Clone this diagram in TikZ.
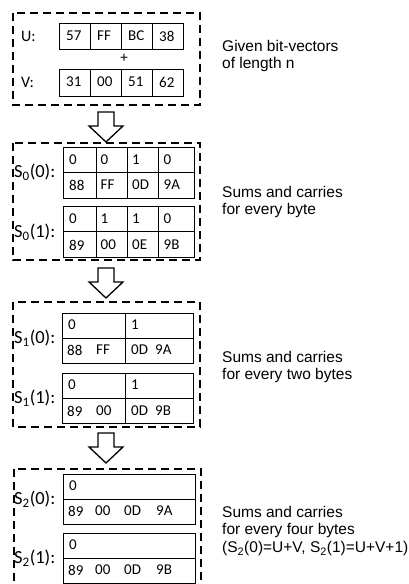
\documentclass[tikz,border=0pt]{standalone}
\usepackage{fontspec}
\setmainfont{Liberation Sans}
\newfontfamily\cellfont{Carlito}

\begin{document}
\begin{tikzpicture}[x=1pt,y=-1pt,
  group/.style={line width=2.8pt,dash pattern=on 8pt off 5pt},
  cellbox/.style={line width=0.7pt},
  cell/.style={font=\cellfont\fontsize{15}{15}\selectfont,anchor=west,inner sep=0pt},
  tag/.style={font=\cellfont\fontsize{16}{16}\selectfont,anchor=west,inner sep=0pt},
  stag/.style={font=\cellfont\fontsize{18.5}{18.5}\selectfont,anchor=west,inner sep=0pt},
  note/.style={font=\fontsize{15.5}{17.5}\selectfont,anchor=north west,align=left,inner sep=0pt},
  blockarrow/.style={line width=1.3pt,line join=miter,fill=white}]
  \useasboundingbox (0,0) rectangle (409,584);

  % dashed groups
  \draw[group] (13,13) rectangle (200,105);
  \draw[group] (13,143) rectangle (200,260);
  \draw[group] (13,302) rectangle (200,427);
  \draw[group] (14,469) rectangle (201,600);

  % arrows between the groups
  \foreach \t in {112,268,433}
    \draw[blockarrow] (98,\t) -- (114,\t) -- (114,\t+14) -- (123,\t+14)
      -- (106,\t+30) -- (89,\t+14) -- (98,\t+14) -- cycle;

  % U and V
  \node[tag] (u) at (21,36) {U:};
  \node[tag] (v) at (21,82) {V:};
  \draw[cellbox] (59,23) rectangle (183,49);
  \draw[cellbox] (59,69) rectangle (183,96);
  \foreach \x in {90,121,152} {
    \draw[cellbox] (\x,23) -- (\x,49);
    \draw[cellbox] (\x,69) -- (\x,96);
  }
  \foreach \b [count=\i from 0] in {57,FF,BC,38}
    \node[cell] (u-\i) at (66+31*\i,36) {\b};
  \foreach \b [count=\i from 0] in {31,00,51,62}
    \node[cell] (v-\i) at (66+31*\i,82) {\b};
  \node[cell,anchor=center] (plus) at (124,58) {+};

  % S_0
  \node[stag] (s00) at (14,172) {S\textsubscript{0}(0):};
  \node[stag] (s01) at (14,232) {S\textsubscript{0}(1):};
  \foreach \top in {147,206} {
    \draw[cellbox] (63,\top) rectangle (194,\top+51);
    \draw[cellbox] (63,\top+25) -- (194,\top+25);
    \foreach \x in {96,127,158}
      \draw[cellbox] (\x,\top) -- (\x,\top+51);
  }
  \foreach \c/\b [count=\i from 0] in {0/88,0/FF,1/0D,0/9A} {
    \node[cell] (s00c-\i) at (69+31.5*\i,160) {\c};
    \node[cell] (s00s-\i) at (69+31.5*\i,185) {\b};
  }
  \foreach \c/\b [count=\i from 0] in {0/89,1/00,1/0E,0/9B} {
    \node[cell] (s01c-\i) at (69+31.5*\i,219) {\c};
    \node[cell] (s01s-\i) at (69+31.5*\i,245) {\b};
  }

  % S_1
  \node[stag] (s10) at (14,338) {S\textsubscript{1}(0):};
  \node[stag] (s11) at (14,398) {S\textsubscript{1}(1):};
  \foreach \top in {313,373} {
    \draw[cellbox] (62,\top) rectangle (193,\top+50);
    \draw[cellbox] (62,\top+25) -- (193,\top+25);
    \draw[cellbox] (125,\top) -- (125,\top+50);
  }
  \node[cell] (s10c-0) at (68,325) {0};
  \node[cell] (s10c-1) at (131,325) {1};
  \node[cell] (s11c-0) at (68,385) {0};
  \node[cell] (s11c-1) at (131,385) {1};
  \foreach \b/\x [count=\i from 0] in {88/67,FF/96,0D/131,9A/155}
    \node[cell] (s10s-\i) at (\x,350) {\b};
  \foreach \b/\x [count=\i from 0] in {89/67,00/96,0D/131,9B/155}
    \node[cell] (s11s-\i) at (\x,411) {\b};

  % S_2
  \node[stag] (s20) at (14,499) {S\textsubscript{2}(0):};
  \node[stag] (s21) at (14,558) {S\textsubscript{2}(1):};
  \foreach \top in {474,533} {
    \draw[cellbox] (63,\top) rectangle (195,\top+50);
    \draw[cellbox] (63,\top+25) -- (195,\top+25);
  }
  \node[cell] (s20c) at (69,486) {0};
  \node[cell] (s21c) at (69,545) {0};
  \foreach \b/\x [count=\i from 0] in {89/68,00/95,0D/124,9A/156}
    \node[cell] (s20s-\i) at (\x,511) {\b};
  \foreach \b/\x [count=\i from 0] in {89/68,00/95,0D/124,9B/156}
    \node[cell] (s21s-\i) at (\x,570) {\b};

  % notes on the right
  \node[note] (given) at (222,40) {Given bit-vectors\\of length n};
  \node[note] (byte1) at (222,186) {Sums and carries\\for every byte};
  \node[note] (byte2) at (222,351) {Sums and carries\\for every two bytes};
  \node[note] (byte4) at (222,506) {Sums and carries\\for every four bytes\\
    (S\textsubscript{2}(0)=U+V, S\textsubscript{2}(1)=U+V+1)};
\end{tikzpicture}
\end{document}
